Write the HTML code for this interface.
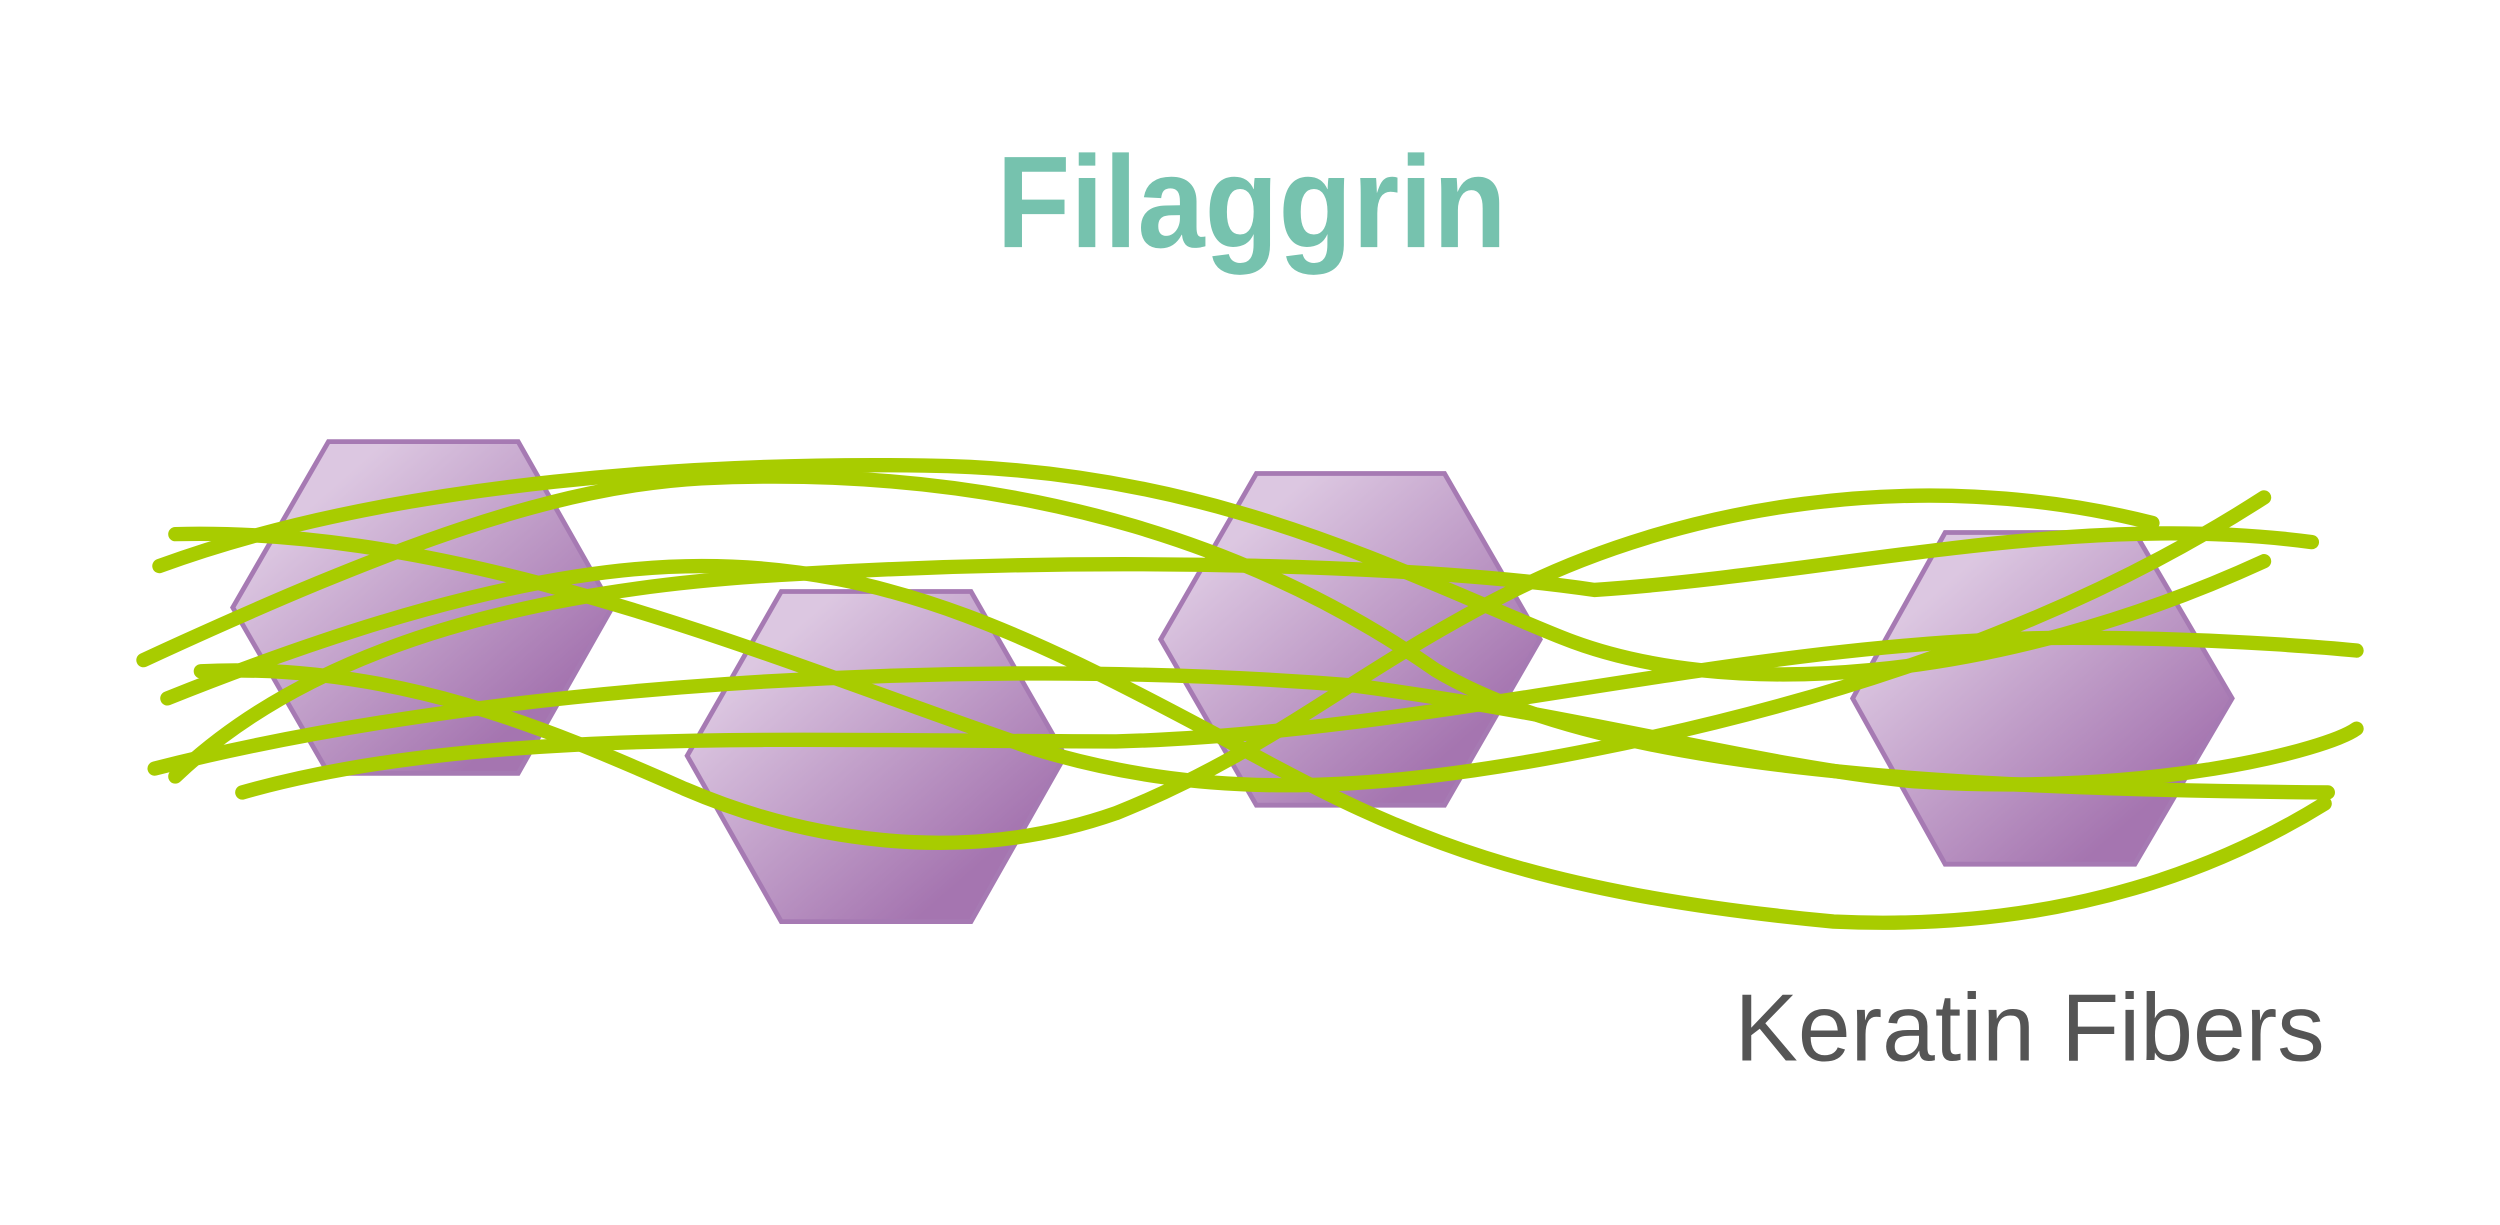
<!DOCTYPE html>
<html>
<head>
<meta charset="utf-8">
<style>
html,body{margin:0;padding:0;background:#fff;}
svg{display:block;}
</style>
</head>
<body>
<svg width="2500" height="1225" viewBox="0 0 1568 768.3" preserveAspectRatio="none" xmlns="http://www.w3.org/2000/svg">
<defs>
<linearGradient id="g" x1="0" y1="0" x2="1" y2="1">
<stop offset="0.2" stop-color="#dcc7e1"/>
<stop offset="0.8" stop-color="#a575b0"/>
</linearGradient>
</defs>
<rect width="1568" height="768.3" fill="#fff"/>
<g fill="url(#g)" stroke="#a67ab3" stroke-width="3">
<polygon points="206,277 325,277 384,381 325,485 206,485 146,381"/>
<polygon points="490,371 609,371 668,474 609,578 490,578 431,474"/>
<polygon points="788,297 906,297 966,401 906,505 788,505 728,401"/>
<polygon points="1220,334 1339,334 1400,438 1339,542 1220,542 1162,438"/>
</g>
<g fill="none" stroke="#a8cc00" stroke-width="9" stroke-linecap="round">
<path d="M100,355 C250,300 450,290 580,292 C760,294 880,360 980,400 C1080,440 1250,430 1420,352"/>
<path d="M90,414 C250,340 350,305 440,300 C650,290 800,350 900,420 C1000,480 1200,495 1460,497"/>
<path d="M110,335 C300,330 500,420 650,470 C750,500 850,500 1000,470 C1200,430 1330,370 1420,312"/>
<path d="M105,438 C200,400 330,355 440,355 C560,355 650,400 780,470 C880,525 960,560 1150,578 C1300,585 1400,540 1458,504"/>
<path d="M126,421 C250,415 350,460 430,495 C500,525 600,545 700,510 C800,470 850,420 950,370 C1050,320 1200,290 1350,328"/>
<path d="M110,487 C180,420 300,370 500,360 C700,348 900,355 1000,370 C1150,360 1300,320 1450,340"/>
<path d="M97,482 C300,430 600,410 850,430 C1000,450 1100,480 1200,490 C1350,500 1460,470 1478,457"/>
<path d="M152,497 C300,455 500,465 700,465 C900,460 1100,400 1300,400 C1400,400 1478,408 1478,408"/>
</g>
<text x="625" y="155" font-family="Liberation Sans, sans-serif" font-weight="bold" font-size="82" fill="#76c2ae" textLength="320" lengthAdjust="spacingAndGlyphs">Filaggrin</text>
<text x="1088" y="665" font-family="Liberation Sans, sans-serif" font-size="60" fill="#555555" textLength="370" lengthAdjust="spacingAndGlyphs">Keratin Fibers</text>
</svg>
</body>
</html>
